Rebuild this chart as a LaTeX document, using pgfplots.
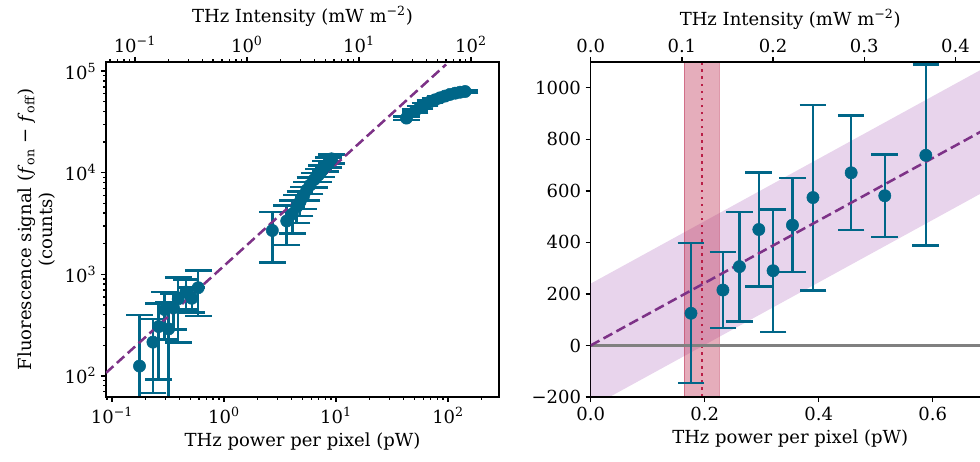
\documentclass[border=0pt]{standalone}
\usepackage{fontspec}
\setmainfont{DejaVu Serif}
\usepackage{pgfplots}
\usepackage{pgfplotstable}
\pgfplotsset{compat=1.18}

\definecolor{dat}{RGB}{0,102,136}
\definecolor{fitc}{RGB}{125,50,135}
\definecolor{bandc}{RGB}{140,40,160}
\definecolor{thrc}{RGB}{190,50,85}
\definecolor{dotc}{RGB}{185,30,70}
\newcommand{\ff}{\fontsize{13.5}{16}\selectfont}
\newcommand{\tp}[1]{10\textsuperscript{#1}}

% low power points: x (pW), counts, err+, err-, err- clipped for the log panel
\pgfplotstableread{
x     y    ep   em   eml
0.176 125  273  271  124
0.232 215  148  147  147
0.261 306  212  214  214
0.295 450  222  222  222
0.320 290  238  238  238
0.354 467  183  182  182
0.390 574  360  360  360
0.457 670  222  222  222
0.516 581  160  160  160
0.588 738  352  350  350
}\lowdata

\pgfplotstableread{
x     y     e
2.70  2700  1400
3.63  3350  1400
4.07  3920  1400
4.46  4610  1400
4.77  5170  1400
5.11  5800  1400
5.47  6740  1400
5.86  7550  1400
6.40  8590  1400
6.95  9470  1400
7.45  10440 1400
8.09  11620 1400
8.62  12700 1400
9.10  13700 1400
}\middata

\pgfplotstableread{
x     y     e
42.5  34500 1400
50.7  40400 1400
56.2  43900 1400
62.3  47000 1400
69.1  49900 1400
76.5  52200 1400
84.8  54600 1400
94.0  56800 1400
104   59000 1400
116   60700 1400
128   62000 1400
142   63000 1400
}\highdata

\pgfplotsset{
  base/.style={
    scale only axis, height=251.25pt,
    axis line style={line width=1pt},
    every tick/.style={line width=1pt, black},
    major tick length=3.75pt, minor tick length=2.2pt,
    tick align=outside,
    tick label style={font=\ff},
    label style={font=\ff},
  },
  dpts/.style={only marks, mark=*, mark size=4.6pt, color=dat,
    error bars/.cd, y dir=both, y explicit,
    error bar style={line width=1.9pt, color=dat},
    error mark options={rotate=90, line width=1.9pt, mark size=10pt, color=dat}},
  fitl/.style={fitc, line width=1.9pt, dash pattern=on 7.5pt off 3.5pt},
}

\begin{document}
\begin{tikzpicture}
\useasboundingbox (-79.5pt,-48pt) rectangle (655.5pt,297.75pt);

% left panel, log-log
\begin{axis}[base, at={(0pt,0pt)}, anchor=south west, width=294.75pt,
  xmode=log, ymode=log, xmin=0.0884, xmax=285, ymin=62, ymax=123000,
  tick pos=left,
  xtick={0.1,1,10,100}, xticklabels={\tp{−1},\tp{0},\tp{1},\tp{2}},
  ytick={100,1000,10000,100000}, yticklabels={\tp{2},\tp{3},\tp{4},\tp{5}},
  minor xtick={0.09,0.2,0.3,0.4,0.5,0.6,0.7,0.8,0.9,2,3,4,5,6,7,8,9,20,30,40,50,60,70,80,90,200},
  minor ytick={70,80,90,200,300,400,500,600,700,800,900,2000,3000,4000,5000,6000,7000,8000,9000,20000,30000,40000,50000,60000,70000,80000,90000},
  xlabel={THz power per pixel (pW)},
  ylabel={Fluorescence signal (\textit{f}\textsubscript{on} − \textit{f}\textsubscript{off})\\(counts)},
  ylabel style={align=center},
]
\addplot[dpts] table[x=x, y=y, y error plus=ep, y error minus=eml] {\lowdata};
\addplot[dpts] table[x=x, y=y, y error=e] {\middata};
\addplot[dpts] table[x=x, y=y, y error=e] {\highdata};
\addplot[fitl] coordinates {(0.0884,107.1) (96,116350)};
\end{axis}

% left panel, top intensity axis
\begin{axis}[base, at={(0pt,0pt)}, anchor=south west, width=294.75pt,
  xmode=log, xmin=0.05525, xmax=178.1, ymin=0, ymax=1,
  hide y axis, xtick pos=right, xticklabel pos=right,
  xtick={0.1,1,10,100}, xticklabels={\tp{−1},\tp{0},\tp{1},\tp{2}},
  minor xtick={0.06,0.07,0.08,0.09,0.2,0.3,0.4,0.5,0.6,0.7,0.8,0.9,2,3,4,5,6,7,8,9,20,30,40,50,60,70,80,90},
  xlabel={THz Intensity (mW m\textsuperscript{−2})},
]
\end{axis}

% right panel, linear
\begin{axis}[base, at={(363.5pt,0pt)}, anchor=south west, width=299.25pt,
  xmin=0, xmax=0.7, ymin=-200, ymax=1100,
  tick pos=left,
  xtick={0,0.2,0.4,0.6}, xticklabels={0.0,0.2,0.4,0.6},
  ytick={-200,0,200,400,600,800,1000}, yticklabels={−200,0,200,400,600,800,1000},
  xlabel={THz power per pixel (pW)},
]
\addplot[draw=none, fill=bandc, fill opacity=0.2] coordinates {(0,-240) (0.7,608.4) (0.7,1088.4) (0,240)} -- cycle;
\addplot[fill=thrc, fill opacity=0.4, draw=thrc, draw opacity=0.5, line width=1pt] coordinates {(0.1643,-200) (0.2257,-200) (0.2257,1100) (0.1643,1100)} -- cycle;
\addplot[dotc, line width=1.9pt, dash pattern=on 1.9pt off 3.4pt] coordinates {(0.1953,-200) (0.1953,1100)};
\addplot[gray, line width=2pt] coordinates {(0,0) (0.7,0)};
\addplot[dpts] table[x=x, y=y, y error plus=ep, y error minus=em] {\lowdata};
\addplot[fitl] coordinates {(0,0) (0.7,848.4)};
\end{axis}

% right panel, top intensity axis
\begin{axis}[base, at={(363.5pt,0pt)}, anchor=south west, width=299.25pt,
  xmin=0, xmax=0.4375, ymin=0, ymax=1,
  hide y axis, xtick pos=right, xticklabel pos=right,
  xtick={0,0.1,0.2,0.3,0.4}, xticklabels={0.0,0.1,0.2,0.3,0.4},
  xlabel={THz Intensity (mW m\textsuperscript{−2})},
]
\end{axis}
\end{tikzpicture}
\end{document}
